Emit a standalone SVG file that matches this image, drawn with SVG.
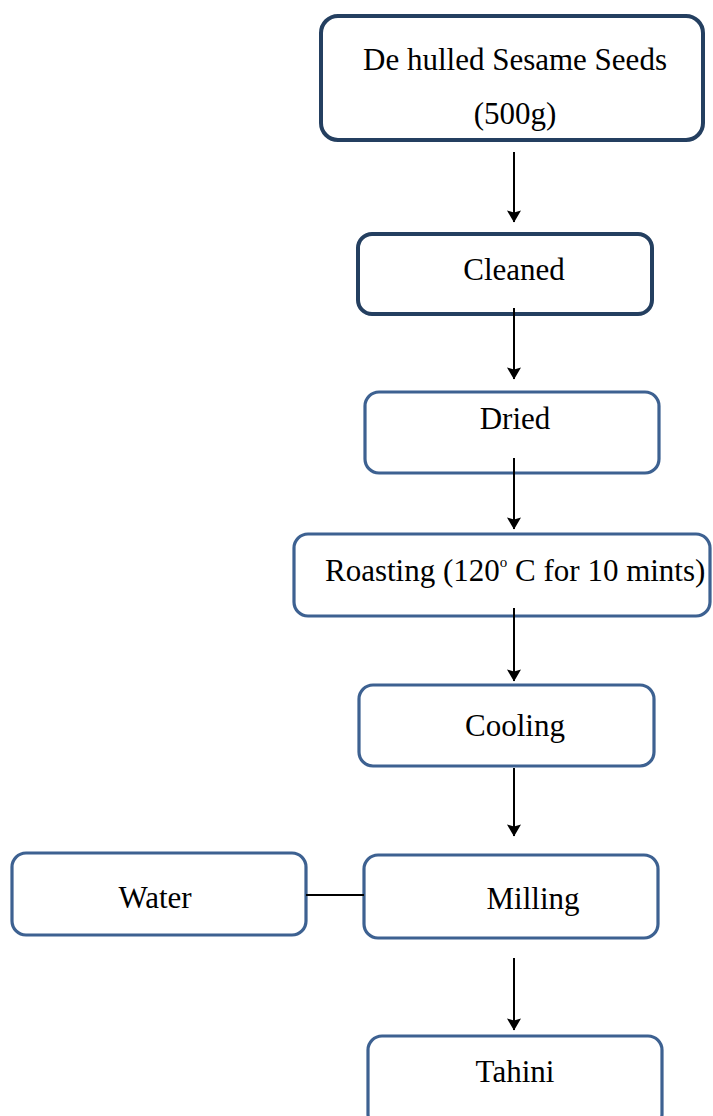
<svg xmlns="http://www.w3.org/2000/svg" width="713" height="1116" viewBox="0 0 713 1116">
<style>
.box{fill:#fff;stroke:#3D6191;stroke-width:3.2}
.dark{stroke:#243F60;stroke-width:4}
.t{font-family:"Liberation Serif","Times New Roman",serif;font-size:31px;fill:#000;text-anchor:middle}
.c{stroke:#000;stroke-width:2;fill:none}
</style>
<defs>
<marker id="arr" markerWidth="16" markerHeight="14" refX="8" refY="13" orient="0" markerUnits="userSpaceOnUse" viewBox="0 0 16 14">
<path d="M1,1.5 L8,3.5 L15,1.5 L8,13.5 Z" fill="#000"/>
</marker>
</defs>
<g id="n1"><rect class="box dark" x="321" y="16" width="382" height="124" rx="17"/><text class="t" x="515" y="70">De hulled Sesame Seeds</text><text class="t" x="515" y="124">(500g)</text></g>
<g id="n2"><rect class="box dark" x="358" y="234" width="294" height="80" rx="14"/><text class="t" x="514" y="280">Cleaned</text></g>
<g id="n3"><rect class="box" x="365" y="392" width="294" height="81" rx="14"/><text class="t" x="515" y="429">Dried</text></g>
<g id="n4"><rect class="box" x="294" y="534" width="416" height="82" rx="14"/><text class="t" x="325" y="581" style="text-anchor:start">Roasting (120<tspan dy="-14" font-size="15">o</tspan><tspan dy="14"> C for 10 mints)</tspan></text></g>
<g id="n5"><rect class="box" x="359" y="685" width="295" height="81" rx="14"/><text class="t" x="515" y="736">Cooling</text></g>
<g id="n6"><rect class="box" x="364" y="855" width="294" height="83" rx="14"/><text class="t" x="533" y="909">Milling</text></g>
<g id="n7"><rect class="box" x="12" y="853" width="294" height="82" rx="14"/><text class="t" x="155" y="908">Water</text></g>
<g id="n8"><rect class="box" x="368" y="1036" width="294" height="92" rx="14"/><text class="t" x="515" y="1082">Tahini</text></g>
<g id="connectors">
<line class="c" x1="514" y1="152" x2="514" y2="222" marker-end="url(#arr)"/>
<line class="c" x1="514" y1="308" x2="514" y2="379" marker-end="url(#arr)"/>
<line class="c" x1="514" y1="458" x2="514" y2="529" marker-end="url(#arr)"/>
<line class="c" x1="514" y1="608" x2="514" y2="681" marker-end="url(#arr)"/>
<line class="c" x1="514" y1="768" x2="514" y2="836" marker-end="url(#arr)"/>
<line class="c" x1="514" y1="958" x2="514" y2="1030" marker-end="url(#arr)"/>
<line class="c" x1="306" y1="895" x2="364" y2="895"/>
</g>
</svg>
